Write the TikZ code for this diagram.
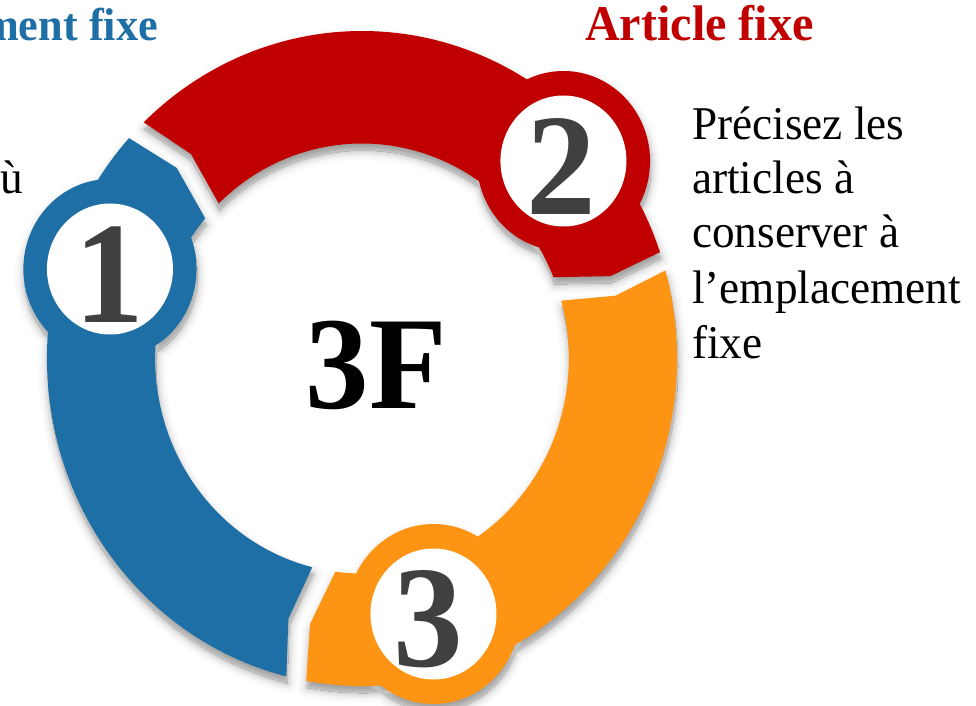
\documentclass[tikz,border=0pt]{standalone}
\usepackage{fontspec}
\setmainfont{Liberation Serif}
\usepackage{graphicx}

\definecolor{ringblue}{RGB}{31,111,167}
\definecolor{ringred}{RGB}{192,0,0}
\definecolor{ringorange}{RGB}{254,148,19}
\definecolor{digitgray}{RGB}{64,64,64}

% slightly condensed text, like the rest of the drawing
\newcommand\narrow[1]{\scalebox{0.962}[1]{#1}}

% one ring segment: a band with a chevron tip and a notched tail, plus its badge disc
% #1 tip middle, #2 tip outer corner, #3 tip inner corner, #4 tail corners, #5 tail middle, #6 badge centre
\newcommand\segpath[6]{(#2:327.5) arc[start angle=#2, end angle=#4, radius=327.5]
  -- (#5:271) -- (#4:215) arc[start angle=#4, end angle=#3, radius=215]
  -- (#1:271) -- cycle (#6) circle[radius=90]}

\newcommand\blueseg{\segpath{135.3}{137.7}{139.3}{256.1}{253.6}{-262,89.5}}
\newcommand\redseg{\segpath{17.7}{18.95}{22.2}{133.85}{131.0}{209.4,197.5}}
\newcommand\orangeseg{\segpath{-101.5}{-100.2}{-97.4}{15.6}{13.4}{74.3,-255.5}}
\newcommand\allsegs{\blueseg \redseg \orangeseg}

\tikzset{
  digit/.style={anchor=base, inner sep=0pt, text=digitgray,
                font=\bfseries\fontsize{145}{145}\selectfont},
  heading/.style={inner sep=0pt, font=\bfseries\fontsize{50}{50}\selectfont},
  bodyline/.style={anchor=base west, inner sep=0pt, font=\fontsize{47}{54}\selectfont},
}

\begin{document}
\begin{tikzpicture}[x=1pt,y=1pt]
\useasboundingbox (0,0) rectangle (976,705);
\clip (0,0) rectangle (976,705);
\fill[white] (0,0) rectangle (976,705);

\begin{scope}[shift={(362pt,346.5pt)}, x=0.962pt, y=1pt]
  % soft shadow: gray levels of a blurred copy, shifted down
  \begin{scope}[shift={(1,-7)}]
    % outside the edge: widening halos, lightest first
    \foreach \lw/\v in {20/0.9,18/1.4,16/2.2,14/3.2,12/4.6,10/6.4,8/8.5,6/11.0,4/13.8,2/16.8}{
      \path[fill=black!\v, draw=black!\v, line width=\lw pt, line join=round] \allsegs;
    }
    % inside the edge: darker towards the middle
    \begin{scope}
      \clip \allsegs;
      \fill[black!40] \allsegs;
      \foreach \lw/\v in {20/39.1,18/38.6,16/37.8,14/36.8,12/35.4,10/33.6,8/31.5,6/29.0,4/26.2,2/23.2}{
        \draw[black!\v, line width=\lw pt, line join=round] \allsegs;
      }
    \end{scope}
  \end{scope}

  % blue segment and badge 1
  \fill[ringblue] \blueseg;
  \fill[white] (-262,89.5) circle[radius=65.5];
  % red segment and badge 2
  \fill[ringred] \redseg;
  \fill[white] (209.4,197.5) circle[radius=65.5];
  % orange segment and badge 3
  \fill[ringorange] \orangeseg;
  \fill[white] (74.3,-255.5) circle[radius=65.5];
\end{scope}

% badge numbers
\node[digit] (n1) at (109,382) {\narrow{1}};
\node[digit] (n2) at (561.5,490) {\narrow{2}};
\node[digit] (n3) at (428.5,39) {\narrow{3}};

% centre label
\node[anchor=base, inner sep=0pt, font=\bfseries\fontsize{132}{132}\selectfont] (core) at (376.5,297) {\narrow{3F}};

% headings
\node[heading, anchor=base east, text=ringblue, font=\bfseries\fontsize{46}{46}\selectfont] (head1) at (158,664) {\narrow{ment fixe}};
\node[heading, anchor=base west, text=ringred] (head2) at (585,664) {\narrow{Article fixe}};

% side texts
\node[bodyline, anchor=base west] (left1) at (0,511) {\narrow{ù}};
\node[bodyline] (r1) at (692,565) {\narrow{Précisez les}};
\node[bodyline] (r2) at (692,511) {\narrow{articles à}};
\node[bodyline] (r3) at (692,457) {\narrow{conserver à}};
\node[bodyline] (r4) at (692,402) {\narrow{l’emplacement}};
\node[bodyline] (r5) at (692,347) {\narrow{fixe}};
\end{tikzpicture}
\end{document}
